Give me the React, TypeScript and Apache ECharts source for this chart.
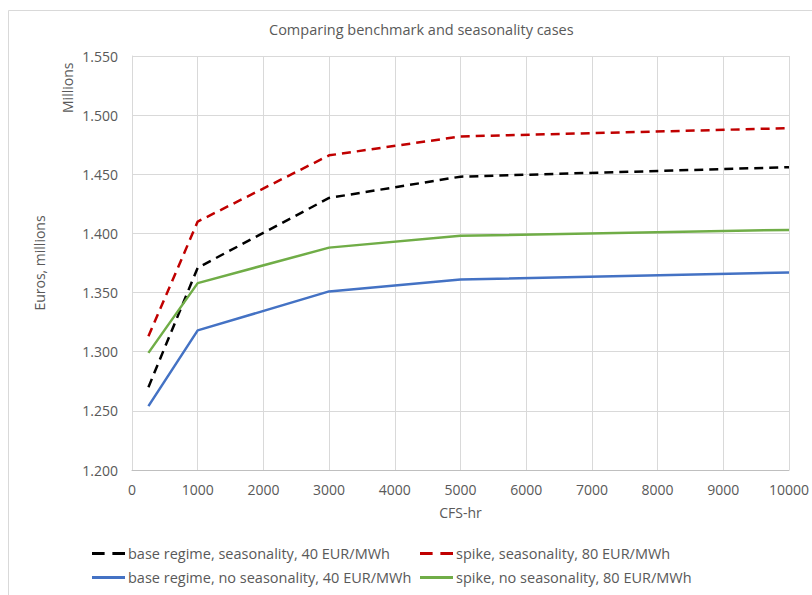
import React, { useEffect, useRef } from "react";
import * as echarts from "echarts";

// CFS-hr values sampled for every case
const cfsHours = [250, 1000, 3000, 5000, 10000];

// Euros, millions
const baseSeasonal = [1.270, 1.371, 1.430, 1.448, 1.456];
const spikeSeasonal = [1.313, 1.410, 1.466, 1.482, 1.489];
const baseFlat = [1.254, 1.318, 1.351, 1.361, 1.367];
const spikeFlat = [1.299, 1.358, 1.388, 1.398, 1.403];

const seriesNames = [
  "base regime, seasonality, 40 EUR/MWh",
  "spike, seasonality, 80 EUR/MWh",
  "base regime, no seasonality, 40 EUR/MWh",
  "spike, no seasonality, 80 EUR/MWh",
];

const FONT = "'Open Sans', sans-serif";
const TEXT = "#595959";

const DASH_ICON = "path://M0,0H13V3H0Z M21,0H34V3H21Z";
const SOLID_ICON = "path://M0,0H34V3H0Z";

const pairs = (ys: number[]) => cfsHours.map((x, i) => [x, ys[i]]);

export default function App() {
  const ref = useRef<HTMLDivElement>(null);

  useEffect(() => {
    if (!ref.current) return;
    const chart = echarts.init(ref.current, null, { renderer: "svg" });

    const lineSeries = (name: string, data: number[], color: string, dashed: boolean) => ({
      name,
      type: "line",
      data: pairs(data),
      symbol: "none",
      color,
      lineStyle: { color, width: 2.5, type: dashed ? [9, 6] : "solid" },
      itemStyle: { color },
    });

    const legendAt = (name: string, icon: string, left: number, top: number) => ({
      data: [{ name, icon }],
      left,
      top,
      itemWidth: 33,
      itemHeight: 3,
      itemGap: 0,
      padding: 0,
      textStyle: { color: TEXT, fontSize: 14.5, fontFamily: FONT, padding: [0, 0, 0, -2] },
    });

    chart.setOption({
      animation: false,
      backgroundColor: "#ffffff",
      title: {
        text: "Comparing benchmark and seasonality cases",
        left: 264,
        top: 17,
        textStyle: { color: TEXT, fontSize: 14.5, fontWeight: "normal", fontFamily: FONT },
      },
      grid: { left: 132, right: 23, top: 56, bottom: 125 },
      legend: [
        legendAt(seriesNames[0], DASH_ICON, 92, 546),
        legendAt(seriesNames[1], DASH_ICON, 420, 546),
        legendAt(seriesNames[2], SOLID_ICON, 92, 570),
        legendAt(seriesNames[3], SOLID_ICON, 420, 570),
      ],
      xAxis: {
        type: "value",
        min: 0,
        max: 10000,
        interval: 1000,
        name: "CFS-hr",
        nameLocation: "middle",
        nameGap: 35,
        nameTextStyle: { color: TEXT, fontSize: 14, fontFamily: FONT },
        axisLine: { show: true, lineStyle: { color: "#bfbfbf", width: 1 } },
        axisTick: { show: false },
        axisLabel: {
          color: TEXT,
          fontSize: 14,
          fontFamily: FONT,
          margin: 12,
          formatter: (v: number) => String(v),
        },
        splitLine: { show: true, lineStyle: { color: "#d9d9d9", width: 1 } },
      },
      yAxis: {
        type: "value",
        min: 1.2,
        max: 1.55,
        interval: 0.05,
        name: "Euros, millions",
        nameLocation: "middle",
        nameRotate: 90,
        nameGap: 86,
        nameTextStyle: { color: TEXT, fontSize: 14, fontFamily: FONT },
        axisLine: { show: true, lineStyle: { color: "#d9d9d9", width: 1 } },
        axisTick: { show: false },
        axisLabel: {
          color: TEXT,
          fontSize: 14,
          fontFamily: FONT,
          margin: 14,
          formatter: (v: number) => v.toFixed(3),
        },
        splitLine: { show: true, lineStyle: { color: "#d9d9d9", width: 1 } },
      },
      graphic: [
        {
          type: "rect",
          left: 6,
          top: 8,
          shape: { width: 804, height: 585 },
          style: { fill: "none", stroke: "#d9d9d9", lineWidth: 1 },
          silent: true,
          z: -1,
        },
        {
          type: "text",
          x: 60,
          y: 113,
          rotation: Math.PI / 2,
          style: { text: "Millions", fill: TEXT, fontSize: 14, fontFamily: FONT },
        },
      ],
      series: [
        lineSeries(seriesNames[0], baseSeasonal, "#000000", true),
        lineSeries(seriesNames[1], spikeSeasonal, "#c00000", true),
        lineSeries(seriesNames[2], baseFlat, "#4472c4", false),
        lineSeries(seriesNames[3], spikeFlat, "#70ad47", false),
      ],
    });

    return () => chart.dispose();
  }, []);

  return (
    <div
      ref={ref}
      style={{ width: 812, height: 595, position: "absolute", left: 0, top: 0 }}
    />
  );
}
